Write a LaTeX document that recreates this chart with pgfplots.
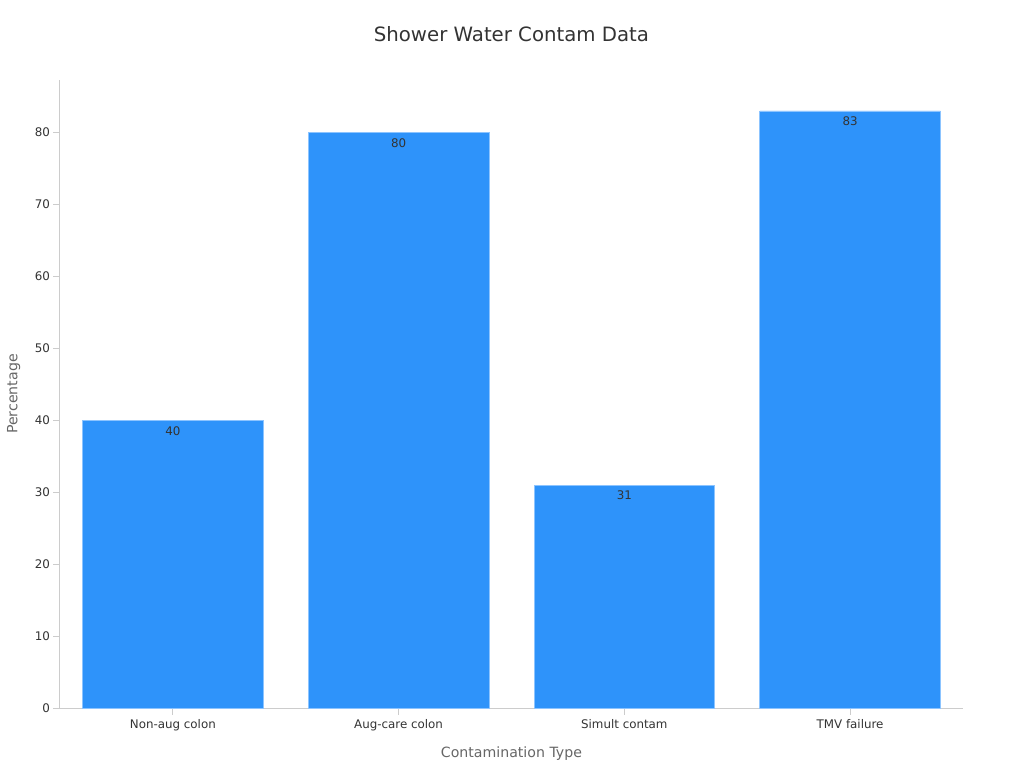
\documentclass[border=0pt]{standalone}
\usepackage{fontspec}
\setmainfont{DejaVu Sans}
\usepackage{pgfplots}
\pgfplotsset{compat=1.18}

\definecolor{barblue}{HTML}{2E93FA}
\definecolor{baredge}{HTML}{8CC4FF}
\definecolor{axisgray}{HTML}{CCCCCC}
\definecolor{textdark}{HTML}{333333}
\definecolor{labelgray}{HTML}{666666}

\begin{document}
\begin{tikzpicture}
\begin{axis}[
    scale only axis,
    width=677.25pt,
    height=471pt,
    xmin=-0.5, xmax=3.5,
    ymin=0, ymax=87.3,
    axis lines*=left,
    axis line style={axisgray, line width=0.75pt},
    xtick={0,1,2,3},
    xticklabels={Non-aug colon, Aug-care colon, Simult contam, TMV failure},
    ytick={0,10,20,30,40,50,60,70,80},
    tick style={axisgray, line width=0.75pt},
    tick align=outside,
    major tick length=5pt,
    tick label style={font=\fontsize{8.9}{10}\selectfont, text=textdark},
    yticklabel style={xshift=1pt},
    /pgf/number format/assume math mode=true,
    xlabel={Contamination Type},
    ylabel={Percentage},
    label style={font=\fontsize{10.6}{12}\selectfont, text=labelgray},
    xlabel style={yshift=-5pt},
    ylabel style={yshift=4pt},
    title={Shower Water Contam Data},
    title style={font=\fontsize{14.8}{17}\selectfont, text=textdark, yshift=19pt},
    ybar,
    bar width=0.8,
    bar shift=0pt,
    nodes near coords,
    nodes near coords style={font=\fontsize{8.9}{10}\selectfont, text=textdark, anchor=north, yshift=-1pt},
    clip=false,
]
\addplot[fill=barblue, draw=baredge, line width=0.5pt] coordinates {
    (0,40) (1,80) (2,31) (3,83)
};
\path (rel axis cs:-0.0664,-0.0955) rectangle (rel axis cs:1.0676,1.1274);
\end{axis}
\end{tikzpicture}
\end{document}
